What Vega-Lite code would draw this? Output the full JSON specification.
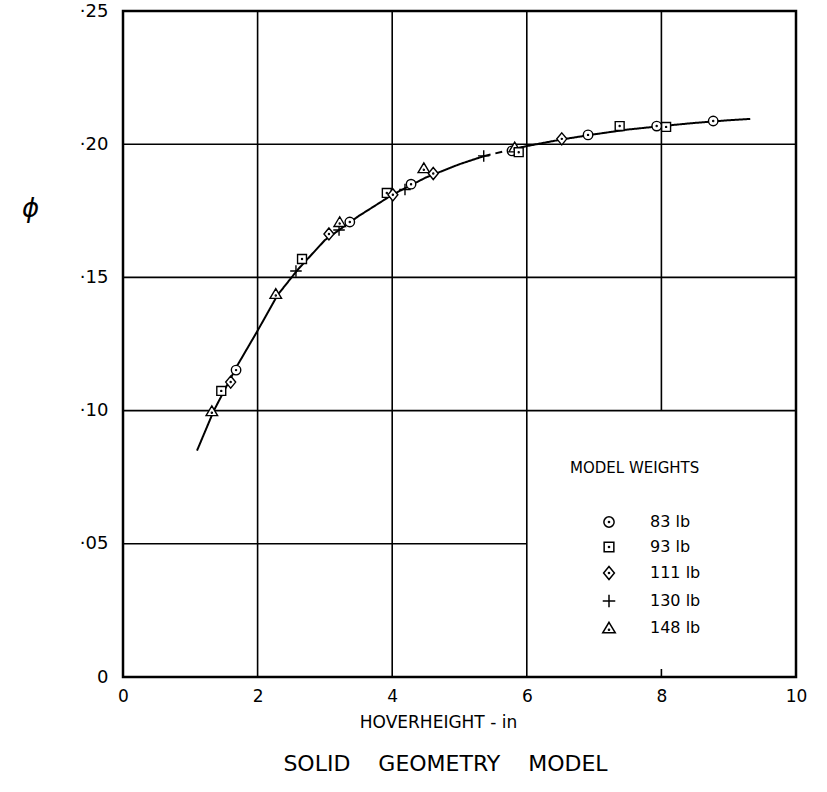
{
  "$schema": "https://vega.github.io/schema/vega-lite/v6.json",
  "width": 673,
  "height": 666,
  "autosize": {"type": "none"},
  "padding": {"left": 123, "top": 11, "right": 31, "bottom": 115},
  "background": "white",
  "config": {
    "view": {"stroke": "black", "strokeWidth": 2.5},
    "font": "DejaVu Sans",
    "axis": {"grid": false, "ticks": false, "domain": false, "labelColor": "black", "titleColor": "black", "labelFont": "DejaVu Sans", "titleFont": "DejaVu Sans"}
  },
  "title": {"text": "SOLID\u00a0\u00a0\u00a0\u00a0GEOMETRY\u00a0\u00a0\u00a0\u00a0MODEL", "orient": "bottom", "fontSize": 22, "fontWeight": "normal", "color": "black", "offset": 24, "dx": -14, "font": "DejaVu Sans"},
  "datasets": {
    "grid": [
      {"x": 0, "x2": 10, "y": 0.20, "y2": 0.20},
      {"x": 0, "x2": 10, "y": 0.15, "y2": 0.15},
      {"x": 0, "x2": 10, "y": 0.10, "y2": 0.10},
      {"x": 0, "x2": 6, "y": 0.05, "y2": 0.05},
      {"x": 2, "x2": 2, "y": 0, "y2": 0.25},
      {"x": 4, "x2": 4, "y": 0, "y2": 0.25},
      {"x": 6, "x2": 6, "y": 0, "y2": 0.25},
      {"x": 8, "x2": 8, "y": 0.10, "y2": 0.25},
      {"x": 8, "x2": 8, "y": 0, "y2": 0.003}
    ],
    "curve": [
      {"x": 1.10, "y": 0.085, "seg": "A", "style": "solid"},
      {"x": 1.35, "y": 0.100, "seg": "A", "style": "solid"},
      {"x": 1.70, "y": 0.117, "seg": "A", "style": "solid"},
      {"x": 2.00, "y": 0.130, "seg": "A", "style": "solid"},
      {"x": 2.30, "y": 0.1435, "seg": "A", "style": "solid"},
      {"x": 2.60, "y": 0.153, "seg": "A", "style": "solid"},
      {"x": 3.00, "y": 0.164, "seg": "A", "style": "solid"},
      {"x": 3.50, "y": 0.173, "seg": "A", "style": "solid"},
      {"x": 4.00, "y": 0.181, "seg": "A", "style": "solid"},
      {"x": 4.50, "y": 0.1875, "seg": "A", "style": "solid"},
      {"x": 5.00, "y": 0.1925, "seg": "A", "style": "solid"},
      {"x": 5.36, "y": 0.1955, "seg": "A", "style": "solid"},
      {"x": 5.36, "y": 0.1955, "seg": "B", "style": "dashed"},
      {"x": 5.80, "y": 0.1982, "seg": "B", "style": "dashed"},
      {"x": 5.80, "y": 0.1982, "seg": "C", "style": "solid"},
      {"x": 6.00, "y": 0.1993, "seg": "C", "style": "solid"},
      {"x": 6.50, "y": 0.2017, "seg": "C", "style": "solid"},
      {"x": 7.00, "y": 0.2037, "seg": "C", "style": "solid"},
      {"x": 7.50, "y": 0.2055, "seg": "C", "style": "solid"},
      {"x": 8.00, "y": 0.2068, "seg": "C", "style": "solid"},
      {"x": 8.50, "y": 0.2080, "seg": "C", "style": "solid"},
      {"x": 9.00, "y": 0.2090, "seg": "C", "style": "solid"},
      {"x": 9.32, "y": 0.2095, "seg": "C", "style": "solid"}
    ],
    "points": [
      {"x": 1.32, "y": 0.0998, "w": "148 lb"},
      {"x": 1.46, "y": 0.1074, "w": "93 lb"},
      {"x": 1.60, "y": 0.1107, "w": "111 lb"},
      {"x": 1.68, "y": 0.1152, "w": "83 lb"},
      {"x": 2.27, "y": 0.1438, "w": "148 lb"},
      {"x": 2.57, "y": 0.1524, "w": "130 lb"},
      {"x": 2.66, "y": 0.1569, "w": "93 lb"},
      {"x": 3.06, "y": 0.1663, "w": "111 lb"},
      {"x": 3.21, "y": 0.1678, "w": "130 lb"},
      {"x": 3.22, "y": 0.1708, "w": "148 lb"},
      {"x": 3.37, "y": 0.1708, "w": "83 lb"},
      {"x": 3.92, "y": 0.1817, "w": "93 lb"},
      {"x": 4.01, "y": 0.1810, "w": "111 lb"},
      {"x": 4.19, "y": 0.1830, "w": "130 lb"},
      {"x": 4.28, "y": 0.1850, "w": "83 lb"},
      {"x": 4.47, "y": 0.1910, "w": "148 lb"},
      {"x": 4.61, "y": 0.1890, "w": "111 lb"},
      {"x": 5.36, "y": 0.1956, "w": "130 lb"},
      {"x": 5.78, "y": 0.1975, "w": "83 lb"},
      {"x": 5.82, "y": 0.1988, "w": "148 lb"},
      {"x": 5.88, "y": 0.1970, "w": "93 lb"},
      {"x": 6.52, "y": 0.2020, "w": "111 lb"},
      {"x": 6.91, "y": 0.2035, "w": "83 lb"},
      {"x": 7.38, "y": 0.2068, "w": "93 lb"},
      {"x": 7.93, "y": 0.2068, "w": "83 lb"},
      {"x": 8.07, "y": 0.2065, "w": "93 lb"},
      {"x": 8.77, "y": 0.2087, "w": "83 lb"}
    ]
  },
  "encoding": {
    "x": {"field": "x", "type": "quantitative", "scale": {"domain": [0, 10], "nice": false, "zero": false},
      "axis": {"values": [0, 2, 4, 6, 8, 10], "title": "HOVERHEIGHT - in", "labelFontSize": 17, "labelPadding": 11, "titleFontSize": 17, "titleFontWeight": "normal", "titlePadding": 10, "titleX": 315, "labelFlush": false}},
    "y": {"field": "y", "type": "quantitative", "scale": {"domain": [0, 0.25], "nice": false, "zero": false},
      "axis": {"values": [0, 0.05, 0.10, 0.15, 0.20, 0.25], "title": "ϕ", "titleAngle": 0, "titleFontSize": 26, "titleFontStyle": "italic", "titleFontWeight": "normal", "titleX": -93, "titleY": 210, "labelFontSize": 18, "labelPadding": 15, "labelFlush": false,
        "labelExpr": "datum.value == 0 ? '0' : '·' + substring(format(datum.value, '.2f'), 2)"}}
  },
  "layer": [
    {
      "data": {"name": "grid"},
      "mark": {"type": "rule", "color": "black", "strokeWidth": 1.6},
      "encoding": {"x2": {"field": "x2"}, "y2": {"field": "y2"}}
    },
    {
      "data": {"name": "curve"},
      "mark": {"type": "line", "color": "black", "strokeWidth": 2},
      "encoding": {
        "detail": {"field": "seg"},
        "strokeDash": {"field": "style", "type": "nominal", "scale": {"domain": ["solid", "dashed"], "range": [[1, 0], [7, 5]]}, "legend": null}
      }
    },
    {
      "data": {"name": "points"},
      "mark": {"type": "point", "filled": true, "fill": "white", "stroke": "black", "strokeWidth": 1.4, "size": 110, "opacity": 1},
      "encoding": {
        "shape": {"field": "w", "type": "nominal",
          "scale": {"domain": ["83 lb", "93 lb", "111 lb", "130 lb", "148 lb"],
            "range": [
              "M-0.9,0A0.9,0.9,0,1,0,0.9,0A0.9,0.9,0,1,0,-0.9,0ZM-0.1,0A0.1,0.1,0,1,0,0.1,0A0.1,0.1,0,1,0,-0.1,0Z",
              "M-0.85,-0.85H0.85V0.85H-0.85ZM-0.1,0A0.1,0.1,0,1,0,0.1,0A0.1,0.1,0,1,0,-0.1,0Z",
              "M0,-1.15L0.95,0L0,1.15L-0.95,0ZM-0.1,0A0.1,0.1,0,1,0,0.1,0A0.1,0.1,0,1,0,-0.1,0Z",
              "M-1.1,0H1.1M0,-1.1V1.1",
              "M0,-1L1.1,0.85H-1.1ZM-0.1,0.3A0.1,0.1,0,1,0,0.1,0.3A0.1,0.1,0,1,0,-0.1,0.3Z"
            ]},
          "legend": {
            "title": "MODEL WEIGHTS", "orient": "none", "legendX": 447, "legendY": 450,
            "titleFontSize": 15, "titleFontWeight": "normal", "titleColor": "black", "titlePadding": 38,
            "labelFontSize": 16, "labelColor": "black", "labelOffset": 33,
            "symbolOffset": 31, "symbolSize": 130,
            "rowPadding": 8,
            "encode": {"symbols": {"update": {"stroke": {"value": "black"}, "strokeWidth": {"value": 1.5}, "fill": {"value": "white"}, "opacity": {"value": 1}}}}
          }
        }
      }
    }
  ]
}
